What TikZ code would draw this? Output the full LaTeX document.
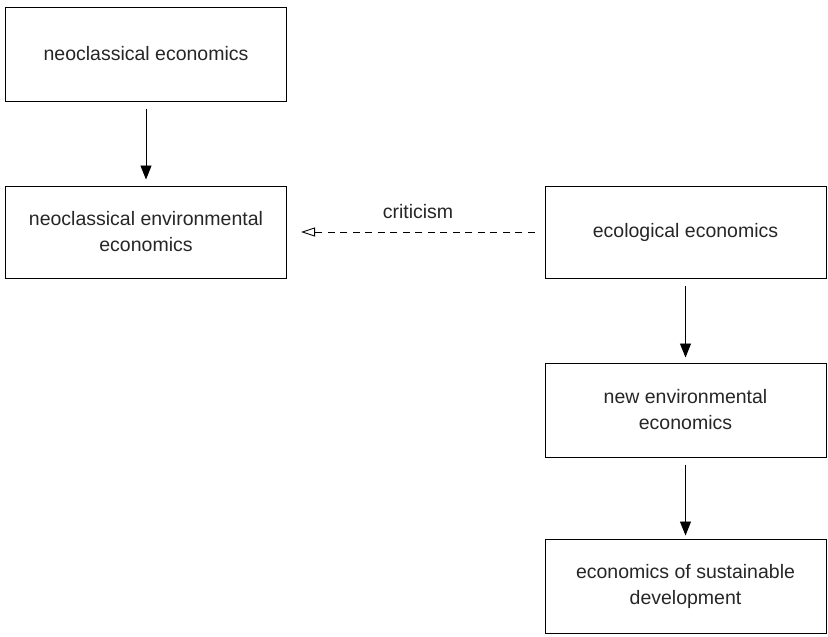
\documentclass[tikz,border=0pt]{standalone}
\usepackage{fontspec}
\setmainfont{Liberation Sans}
\usetikzlibrary{arrows.meta}
\begin{document}
\begin{tikzpicture}[x=1pt,y=1pt,
  box/.style={draw=black,line width=1pt,minimum width=281pt,inner sep=0pt,align=center,
    font=\fontsize{19.5}{26}\selectfont,text=black!85},
  flow/.style={line width=0.9pt,-{Triangle[length=14pt,width=11pt]}},
  crit/.style={line width=0.9pt,dash pattern=on 7pt off 5.5pt,-{Triangle[open,length=14pt,width=9pt]}}]
\useasboundingbox (0,0) rectangle (828,-637);
\node[box,minimum height=94pt] (nc) at (146,-54) {neoclassical economics};
\node[box,minimum height=92pt] (nce) at (146,-232) {neoclassical environmental\\economics};
\node[box,minimum height=92pt] (eco) at (685.5,-232) {ecological economics};
\node[box,minimum height=94pt] (nee) at (685.5,-410) {new environmental\\economics};
\node[box,minimum height=94pt] (esd) at (685.5,-586) {economics of sustainable\\development};
\draw[flow,shorten <=7pt,shorten >=6pt] (nc.south) -- (nce.north);
\draw[flow,shorten <=7pt,shorten >=5pt] (eco.south) -- (nee.north);
\draw[flow,shorten <=7pt,shorten >=3pt] (nee.south) -- (esd.north);
\draw[crit,shorten <=10pt,shorten >=14pt] (eco.west) -- (nce.east);
\node[font=\fontsize{19.5}{26}\selectfont,text=black!85] (cl) at (418,-212) {criticism};
\end{tikzpicture}
\end{document}
